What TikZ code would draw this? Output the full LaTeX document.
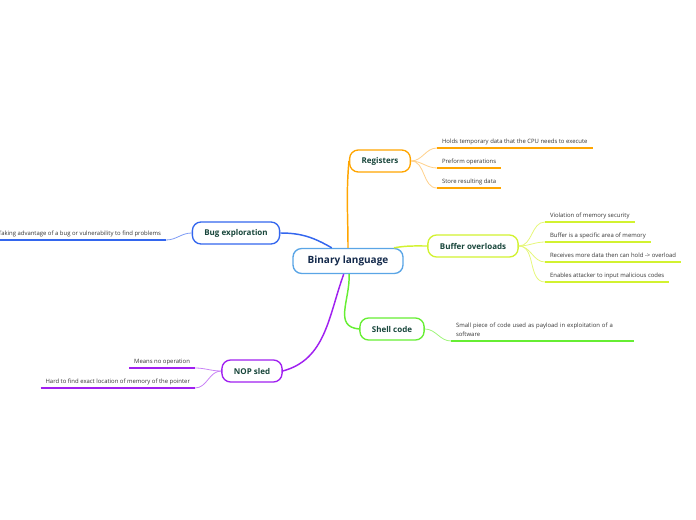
\documentclass[tikz,border=0pt]{standalone}
\usepackage{fontspec}
\setmainfont{Open Sans}
\usetikzlibrary{positioning}
\definecolor{maintext}{HTML}{13294B}
\definecolor{subtext}{HTML}{17453A}
\definecolor{leaftext}{HTML}{333333}
\definecolor{mainline}{HTML}{5AA5E6}
\definecolor{orangeline}{HTML}{FFA500}
\definecolor{orangetwig}{HTML}{FFD08A}
\definecolor{limeline}{HTML}{D2F230}
\definecolor{limetwig}{HTML}{E6F77A}
\definecolor{greenline}{HTML}{66EE33}
\definecolor{greentwig}{HTML}{A0F57C}
\definecolor{blueline}{HTML}{3366EE}
\definecolor{bluetwig}{HTML}{7F9CF5}
\definecolor{purpleline}{HTML}{A020F0}
\definecolor{purpletwig}{HTML}{C984F5}

\begin{document}
\begin{tikzpicture}[x=0.75pt,y=-0.75pt,
  topic/.style={draw=#1,line width=1pt,rounded corners=6.5pt,fill=white,text=subtext,
    font=\fontsize{6}{7}\selectfont\bfseries,inner xsep=9pt,minimum height=16.5pt},
  leaf/.style={text=leaftext,font=\fontsize{4.45}{6.75}\selectfont,inner xsep=3.6pt,
    inner ysep=3.4pt,text depth=0pt},
  branch/.style={draw=#1,line width=1.1pt},
  twig/.style={draw=#1,line width=0.6pt},
  uline/.style={draw=#1,line width=1.4pt}]
\useasboundingbox (0,0) rectangle (696,520);

\node[topic=mainline,text=maintext,font=\fontsize{7.5}{9}\selectfont\bfseries,
  inner xsep=11pt,minimum height=18.75pt] (bin) at (348,261) {Binary language};

\node[topic=orangeline] (reg) at (380,161) {Registers};
\node[topic=limeline] (buf) at (473,246) {Buffer overloads};
\node[topic=greenline] (shell) at (392,329) {Shell code};
\node[topic=blueline] (bug) at (236,233) {Bug exploration};
\node[topic=purpleline] (nop) at (252,371) {NOP sled};

\draw[branch=orangeline] (bin.north) to[out=90,in=-95] (reg.west);
\draw[branch=limeline] (bin.16) to[out=10,in=180] (buf.west);
\draw[branch=greenline] (bin.-85) to[out=-88,in=175,looseness=1.2] (shell.west);
\draw[branch=blueline] (bin.141) to[out=150,in=0] (bug.east);
\draw[branch=purpleline] (bin.-108) to[out=-110,in=15] (nop.east);

\node[leaf,anchor=south west] (reg1) at (437,148) {Holds temporary data that the CPU needs to execute};
\node[leaf,anchor=south west] (reg2) at (437,168) {Preform operations};
\node[leaf,anchor=south west] (reg3) at (437,188) {Store resulting data};
\draw[twig=orangetwig] (reg.east) to[out=0,in=180] (reg1.south west);
\draw[twig=orangetwig] (reg.east) to[out=0,in=180] (reg2.south west);
\draw[twig=orangetwig] (reg.east) to[out=0,in=180] (reg3.south west);
\draw[uline=orangeline] (reg1.south west) -- (reg1.south east);
\draw[uline=orangeline] (reg2.south west) -- (reg2.south east);
\draw[uline=orangeline] (reg3.south west) -- (reg3.south east);

\node[leaf,anchor=south west] (buf1) at (545,222) {Violation of memory security};
\node[leaf,anchor=south west] (buf2) at (545,242) {Buffer is a specific area of memory};
\node[leaf,anchor=south west] (buf3) at (545,262) {Receives more data then can hold -> overload};
\node[leaf,anchor=south west] (buf4) at (545,282) {Enables attacker to input malicious codes};
\draw[twig=limetwig] (buf.east) to[out=0,in=180] (buf1.south west);
\draw[twig=limetwig] (buf.east) to[out=0,in=180] (buf2.south west);
\draw[twig=limetwig] (buf.east) to[out=0,in=180] (buf3.south west);
\draw[twig=limetwig] (buf.east) to[out=0,in=180] (buf4.south west);
\draw[uline=limeline] (buf1.south west) -- (buf1.south east);
\draw[uline=limeline] (buf2.south west) -- (buf2.south east);
\draw[uline=limeline] (buf3.south west) -- (buf3.south east);
\draw[uline=limeline] (buf4.south west) -- (buf4.south east);

\node[leaf,anchor=south west,align=left,text width=130pt,text depth=6.75pt] (shell1) at (451,341)
  {Small piece of code used as payload in exploitation of a\\software};
\draw[twig=greentwig] (shell.east) to[out=0,in=180] (shell1.south west);
\draw[uline=greenline] (shell1.south west) -- (shell1.south east);

\node[leaf,anchor=south east] (bug1) at (166,240) {Taking advantage of a bug or vulnerability to find problems};
\draw[twig=bluetwig] (bug.west) to[out=180,in=0] (bug1.south east);
\draw[uline=blueline] (bug1.south west) -- (bug1.south east);

\node[leaf,anchor=south east] (nop1) at (195,368) {Means no operation};
\node[leaf,anchor=south east] (nop2) at (195,388) {Hard to find exact location of memory of the pointer};
\draw[twig=purpletwig] (nop.west) to[out=180,in=0] (nop1.south east);
\draw[twig=purpletwig] (nop.west) to[out=180,in=0] (nop2.south east);
\draw[uline=purpleline] (nop1.south west) -- (nop1.south east);
\draw[uline=purpleline] (nop2.south west) -- (nop2.south east);
\end{tikzpicture}
\end{document}
